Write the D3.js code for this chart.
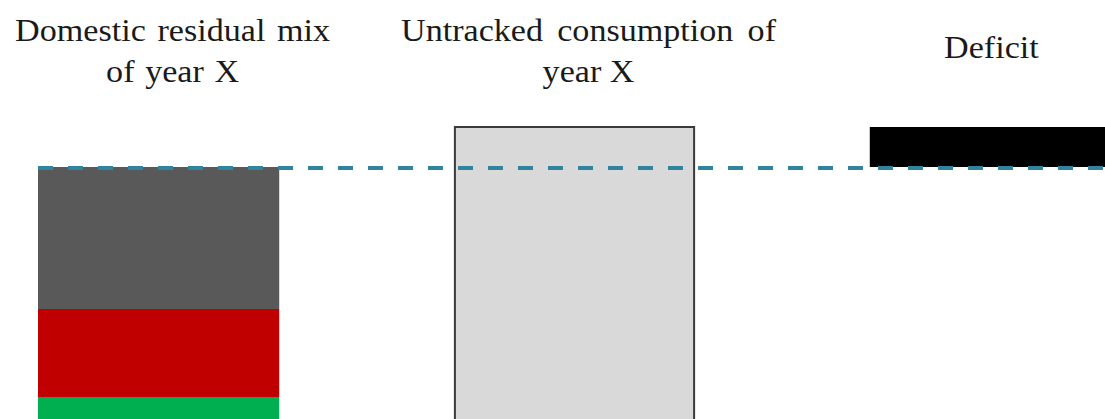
<!DOCTYPE html>
<html>
<head>
<meta charset="utf-8">
<script src="https://cdn.jsdelivr.net/npm/d3@7"></script>
<style>
  html, body { margin: 0; padding: 0; background: #fff; overflow: hidden; }
  svg { display: block; }
</style>
</head>
<body>
<svg id="chart" width="1105" height="419"></svg>
<script>
// Columns of the diagram
const categories = ["residual", "untracked", "deficit"];
const labelLines = [
  ["Domestic residual mix", "of year X"],
  ["Untracked consumption of", "year X"],
  ["Deficit"]
];

// Composition of the domestic residual mix (bottom to top)
const mixParts = ["renewable", "nuclear", "fossil"];
const mixValues = [25, 88, 142];
const mixColors = ["#00B050", "#C00000", "#595959"];

// Untracked consumption of the same year
const untrackedValue = 295;

const W = 1105, H = 419;
const svg = d3.select("#chart");

const x = d3.scaleBand()
  .domain(categories)
  .range([38, 1111])
  .paddingInner(0.42)
  .paddingOuter(0);

const y = d3.scaleLinear()
  .domain([0, 300])
  .range([422, 122]);

// Stack the residual mix segments
let acc = 0;
const segments = mixValues.map((v, i) => {
  const s = { key: mixParts[i], y0: acc, y1: acc + v, color: mixColors[i] };
  acc += v;
  return s;
});
const residualTotal = acc;
const deficitValue = untrackedValue - residualTotal;

// Residual mix stacked bar
svg.append("g").selectAll("rect")
  .data(segments)
  .join("rect")
  .attr("x", x("residual"))
  .attr("width", x.bandwidth())
  .attr("y", d => y(d.y1))
  .attr("height", d => y(d.y0) - y(d.y1))
  .attr("fill", d => d.color);

// Untracked consumption bar
svg.append("rect")
  .attr("x", x("untracked") + 1)
  .attr("width", x.bandwidth() - 2)
  .attr("y", y(untrackedValue))
  .attr("height", y(0) - y(untrackedValue))
  .attr("fill", "#D9D9D9")
  .attr("stroke", "#3a3a3a")
  .attr("stroke-width", 2);

// Deficit block, floating between the residual total and consumption
svg.append("rect")
  .attr("x", x("deficit"))
  .attr("width", x.bandwidth())
  .attr("y", y(residualTotal + deficitValue))
  .attr("height", y(residualTotal) - y(residualTotal + deficitValue))
  .attr("fill", "#000");

// Reference line at the residual mix total
svg.append("line")
  .attr("x1", x("residual"))
  .attr("x2", W)
  .attr("y1", y(residualTotal) + 1)
  .attr("y2", y(residualTotal) + 1)
  .attr("stroke", "#31849B")
  .attr("stroke-width", 4)
  .attr("stroke-dasharray", "15,15");

// Column headings, slightly widened and justified to their text boxes
const stretch = 1.1;
const labelShift = [14, 14, 1];
const lineWidths = [[315, 133], [375, 91], [92]];
const g = svg.append("g")
  .attr("font-family", "'Liberation Serif', 'Times New Roman', serif")
  .attr("font-size", 31)
  .attr("fill", "#1a1a1a")
  .attr("text-anchor", "middle");

categories.forEach((c, i) => {
  const cx = x(c) + x.bandwidth() / 2 + labelShift[i];
  const lines = labelLines[i];
  const baselines = lines.length === 2 ? [41, 82] : [58];
  lines.forEach((t, j) => {
    const txt = g.append("text")
      .attr("transform", `translate(${cx},${baselines[j]}) scale(${stretch},1)`)
      .text(t);
    const spaces = (t.match(/ /g) || []).length;
    if (spaces > 0) {
      const natural = txt.node().getComputedTextLength();
      const extra = (lineWidths[i][j] / stretch - natural) / spaces;
      if (extra > 0) txt.attr("word-spacing", extra);
    }
  });
});
</script>
</body>
</html>
